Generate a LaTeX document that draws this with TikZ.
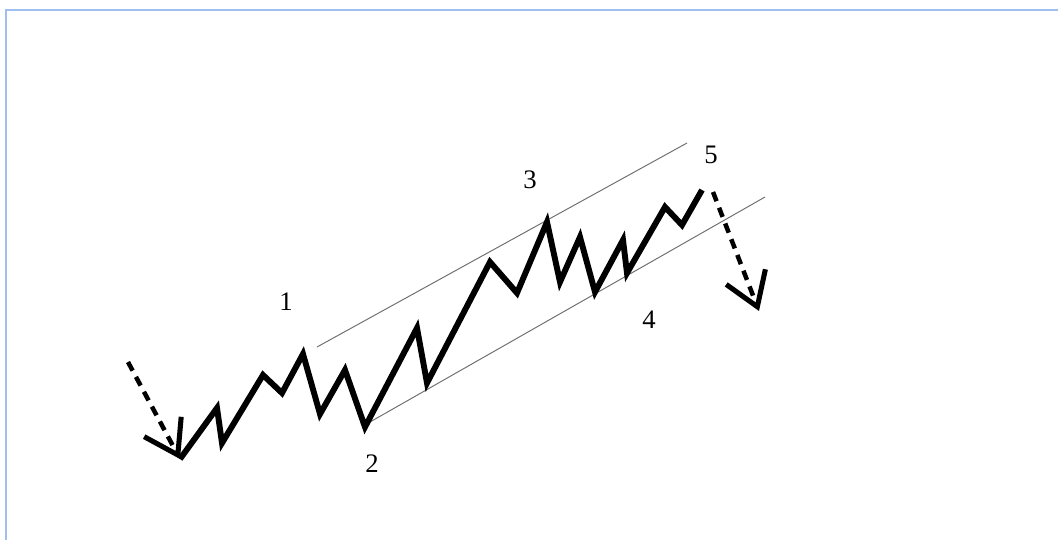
\documentclass[tikz,border=0pt]{standalone}
\usepackage{fontspec}
\setmainfont{Liberation Serif}
\usetikzlibrary{arrows.meta}
\definecolor{FrameBlue}{HTML}{9EBFEF}
\definecolor{ChannelGray}{HTML}{707070}

\tikzset{
  wave/.style={line width=4.2pt,line join=miter,miter limit=4},
  channel/.style={ChannelGray,line width=0.7pt},
  breakout/.style={line width=3.2pt,dash pattern=on 7pt off 5pt,
    -{Straight Barb[length=0.8cm,width=1.05cm,line width=3.6pt]}},
  wavelabel/.style={font=\fontsize{19}{22}\selectfont,inner sep=0pt}
}

\begin{document}
\begin{tikzpicture}[x=0.025cm,y=-0.025cm]
  \useasboundingbox (0,0) rectangle (1058,540);
  % frame
  \draw[FrameBlue,line width=1.6pt] (6,540) -- (6,10) -- (1058,10);

  % key points of the wave
  \coordinate (start) at (180,459);
  \coordinate (w1) at (303,354);
  \coordinate (w2) at (365,427);
  \coordinate (w3) at (547,222);
  \coordinate (w4) at (595,292);
  \coordinate (w5) at (702,190);

  % channel
  \coordinate (upA) at (317,347);
  \coordinate (upB) at (687,143);
  \coordinate (loA) at (370,422);
  \coordinate (loB) at (765,197);
  \draw[channel] (upA) -- (upB);
  \draw[channel] (loA) -- (loB);

  % price path
  \draw[wave] (start) -- (217,408) -- (222,443) -- (263,375) -- (282,393)
    -- (w1) -- (320,414) -- (345,370) -- (w2) -- (417,328) -- (427,383)
    -- (490,262) -- (517,293) -- (w3) -- (560,282) -- (580,237) -- (w4)
    -- (623,240) -- (627,273) -- (665,207) -- (682,225) -- (w5);

  % dashed arrows in and out
  \coordinate (inA) at (128,362);
  \coordinate (outB) at (759,311);
  \draw[breakout] (inA) -- (start);
  \draw[breakout] (713,192) -- (outB);

  % wave numbers
  \node[wavelabel] (n1) at (286,302) {1};
  \node[wavelabel] (n2) at (372,464) {2};
  \node[wavelabel] (n3) at (530,180) {3};
  \node[wavelabel] (n4) at (649,320) {4};
  \node[wavelabel] (n5) at (711,155) {5};
\end{tikzpicture}
\end{document}
